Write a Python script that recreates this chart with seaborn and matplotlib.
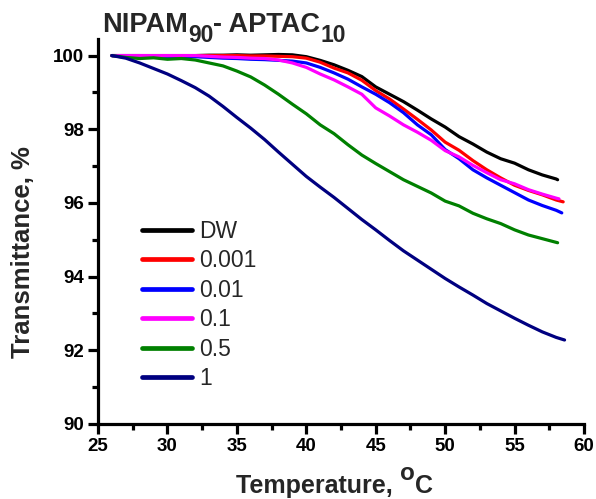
import matplotlib
matplotlib.use("Agg")
import matplotlib.pyplot as plt
from matplotlib.ticker import AutoMinorLocator
import numpy as np
import pandas as pd
import seaborn as sns

# Temperature grid (°C) shared by all series, plus each series' last reading
temps = list(range(26, 59))

series_names = ["DW", "0.001", "0.01", "0.1", "0.5", "1"]
series_colors = ["#000000", "#FF0000", "#0000FF", "#FF00FF", "#008000", "#000080"]

t_dw = [100.0, 100.0, 100.0, 100.0, 100.0, 100.0, 100.0, 100.01, 100.01, 100.02,
        100.01, 100.02, 100.03, 100.02, 99.97, 99.87, 99.75, 99.6, 99.43, 99.15,
        98.95, 98.75, 98.52, 98.28, 98.06, 97.8, 97.6, 97.38, 97.2, 97.08,
        96.9, 96.76, 96.65]
t_0001 = [100.0, 100.0, 100.0, 100.0, 100.0, 100.0, 100.0, 100.0, 100.0, 100.0,
          99.99, 99.99, 99.98, 99.97, 99.93, 99.82, 99.66, 99.53, 99.33, 99.05,
          98.82, 98.55, 98.27, 97.98, 97.65, 97.43, 97.15, 96.9, 96.68, 96.48,
          96.34, 96.22, 96.08]
t_001 = [100.0, 100.0, 100.0, 99.99, 99.98, 99.98, 99.97, 99.95, 99.93, 99.92,
         99.9, 99.89, 99.87, 99.85, 99.8, 99.68, 99.53, 99.36, 99.15, 98.95,
         98.72, 98.45, 98.12, 97.85, 97.45, 97.2, 96.9, 96.68, 96.48, 96.28,
         96.08, 95.93, 95.8]
t_01 = [100.0, 100.0, 100.0, 100.0, 100.0, 100.0, 100.0, 99.98, 99.96, 99.95,
        99.93, 99.92, 99.88, 99.8, 99.68, 99.5, 99.34, 99.15, 98.95, 98.58,
        98.36, 98.12, 97.92, 97.7, 97.42, 97.25, 97.02, 96.82, 96.63, 96.52,
        96.36, 96.24, 96.13]
t_05 = [100.0, 99.95, 99.92, 99.94, 99.9, 99.92, 99.88, 99.8, 99.72, 99.58,
        99.42, 99.2, 98.95, 98.68, 98.42, 98.12, 97.88, 97.58, 97.3, 97.07,
        96.85, 96.63, 96.45, 96.27, 96.05, 95.92, 95.72, 95.57, 95.44, 95.27,
        95.13, 95.03, 94.93]
t_1 = [100.0, 99.93, 99.8, 99.65, 99.5, 99.32, 99.13, 98.9, 98.62, 98.32,
       98.03, 97.72, 97.38, 97.05, 96.72, 96.43, 96.15, 95.85, 95.55, 95.27,
       94.98, 94.7, 94.45, 94.2, 93.95, 93.72, 93.5, 93.27, 93.07, 92.87,
       92.68, 92.5, 92.35]

end_temps = [58.1, 58.5, 58.4, 58.2, 58.1, 58.6]
end_values = [96.63, 96.03, 95.73, 96.11, 94.92, 92.28]

x_ticks = [25, 30, 35, 40, 45, 50, 55, 60]
y_ticks = [90, 92, 94, 96, 98, 100]

# Long-form table for seaborn
rows = []
for name, vals, te, ve in zip(series_names, [t_dw, t_0001, t_001, t_01, t_05, t_1],
                              end_temps, end_values):
    for t, v in zip(temps, vals):
        rows.append((name, t, v))
    rows.append((name, te, ve))
df = pd.DataFrame(rows, columns=["series", "temperature", "transmittance"])

sns.set_style("ticks")
plt.rcParams["font.family"] = ["Liberation Sans", "DejaVu Sans"]

W, H = 596, 499
fig = plt.figure(figsize=(W / 100, H / 100), dpi=100)
ax = fig.add_axes([98 / W, 1 - 424 / H, 486 / W, 385 / H])

sns.lineplot(data=df, x="temperature", y="transmittance", hue="series",
             hue_order=series_names, palette=dict(zip(series_names, series_colors)),
             linewidth=2.3, ax=ax, sort=True, estimator=None)

ax.set_xlim(25, 60)
ax.set_ylim(90, 100.45)
ax.set_xticks(x_ticks)
ax.set_yticks(y_ticks)
ax.xaxis.set_minor_locator(AutoMinorLocator(2))
ax.yaxis.set_minor_locator(AutoMinorLocator(2))

for side in ["top", "right"]:
    ax.spines[side].set_visible(False)
for side in ["left", "bottom"]:
    ax.spines[side].set_linewidth(2.3)
    ax.spines[side].set_color("black")

ax.tick_params(which="major", direction="out", length=7, width=2.3,
               labelsize=13.5, colors="black", pad=3)
ax.tick_params(which="minor", direction="out", length=4, width=2.3, colors="black")
for lab in ax.get_xticklabels() + ax.get_yticklabels():
    lab.set_fontweight("bold")

ax.set_xlabel("")
ax.set_ylabel("")

fig.canvas.draw()
renderer = fig.canvas.get_renderer()


def run_text(pieces, x0, y0, **kw):
    """Place text pieces side by side; each piece is (text, size, dy_pixels)."""
    x = x0
    for txt, size, dy in pieces:
        t = fig.text(x / W, 1 - (y0 - dy) / H, txt, fontsize=size,
                     fontweight="bold", ha="left", va="baseline", **kw)
        x += t.get_window_extent(renderer).width


# Title with lowered subscripts
run_text([("NIPAM", 19.5, 0), ("90", 16.5, -10), ("- APTAC", 19.5, 0), ("10", 16.5, -10)],
         102, 32)

# x-axis label with raised degree mark
run_text([("Temperature, ", 18, 0), ("o", 17.5, 13), ("C", 18, 0)], 236, 493)

fig.text(23 / W, 1 - 252 / H, "Transmittance, %", fontsize=18.5,
         fontweight="bold", rotation=90, ha="center", va="center")

leg = ax.legend(loc="upper left", bbox_to_anchor=((142 - 98) / 486, (424 - 220) / 385),
                frameon=False, fontsize=16.5, handlelength=2.2, handletextpad=0.3,
                labelspacing=0.28, borderaxespad=0, borderpad=0)
for line in leg.get_lines():
    line.set_linewidth(3.4)

fig.savefig("out.png", dpi=100)
